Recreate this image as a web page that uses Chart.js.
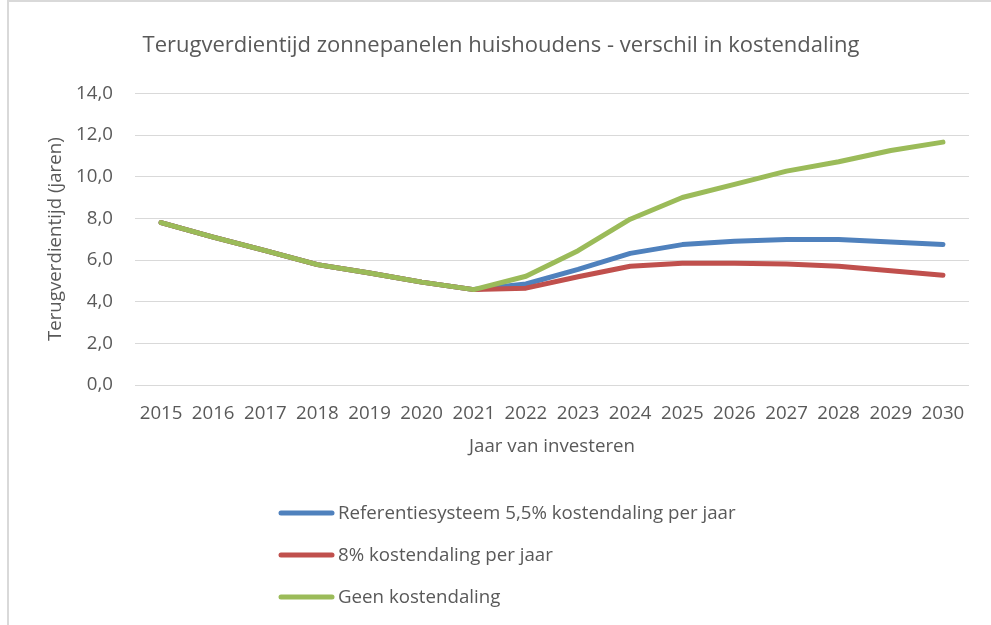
<!DOCTYPE html>
<html>
<head>
<meta charset="utf-8">
<script src="https://cdn.jsdelivr.net/npm/chart.js@4"></script>
<style>
  html,body{margin:0;padding:0;background:#fff;}
  #wrap{position:relative;width:991px;height:625px;overflow:hidden;}
  #frame{position:absolute;left:7px;top:0;width:1000px;height:700px;border-left:2px solid #d9d9d9;border-top:2px solid #d9d9d9;box-sizing:border-box;pointer-events:none;}
  canvas{position:absolute;left:0;top:0;}
</style>
</head>
<body>
<div id="wrap">
  <canvas id="chart" width="991" height="625"></canvas>
  <div id="frame"></div>
</div>
<script>
const years = ['2015','2016','2017','2018','2019','2020','2021','2022','2023','2024','2025','2026','2027','2028','2029','2030'];
const referentie = [7.8,7.1,6.45,5.78,5.38,4.94,4.58,4.85,5.55,6.32,6.74,6.9,6.99,6.98,6.86,6.74];
const acht = [7.8,7.1,6.45,5.78,5.38,4.94,4.58,4.65,5.2,5.7,5.84,5.84,5.81,5.7,5.49,5.27];
const geen = [7.8,7.1,6.45,5.78,5.38,4.94,4.58,5.22,6.45,7.96,9.0,9.63,10.27,10.72,11.26,11.66];

const seriesNames = ['Referentiesysteem 5,5% kostendaling per jaar','8% kostendaling per jaar','Geen kostendaling'];
const colors = ['#4f81bd','#c0504d','#9bbb59'];

const FONT = '"Open Sans", sans-serif';
const TXT = '#595959';

// legend drawn below the plot, one row per series
const bottomLegend = {
  id:'bottomLegend',
  afterDraw(chart){
    const ctx = chart.ctx;
    ctx.save();
    chart.data.datasets.forEach((ds,i)=>{
      const y = 513 + i*42;
      ctx.strokeStyle = ds.borderColor;
      ctx.lineWidth = 5;
      ctx.lineCap = 'round';
      ctx.beginPath();
      ctx.moveTo(281,y);
      ctx.lineTo(332,y);
      ctx.stroke();
      ctx.fillStyle = TXT;
      ctx.font = '18.7px ' + FONT;
      ctx.textBaseline = 'middle';
      ctx.fillText(ds.label, 338, y+1);
    });
    ctx.restore();
  }
};

const ctx = document.getElementById('chart').getContext('2d');
new Chart(ctx,{
  type:'line',
  data:{
    labels: years,
    datasets:[
      {label:seriesNames[0], data:referentie, borderColor:colors[0], order:2},
      {label:seriesNames[1], data:acht, borderColor:colors[1], order:1},
      {label:seriesNames[2], data:geen, borderColor:colors[2], order:0}
    ]
  },
  options:{
    responsive:false,
    animation:false,
    elements:{
      line:{borderWidth:5, tension:0, borderCapStyle:'round', borderJoinStyle:'round', fill:false},
      point:{radius:0, hoverRadius:0}
    },
    layout:{padding:{left:33, right:22, top:0, bottom:165}},
    plugins:{
      legend:{display:false},
      tooltip:{enabled:false},
      title:{
        display:true,
        text:'Terugverdientijd zonnepanelen huishoudens - verschil in kostendaling',
        color:TXT,
        font:{family:FONT, size:22, weight:'normal'},
        padding:{top:33, bottom:34}
      }
    },
    scales:{
      x:{
        offset:true,
        grid:{display:false, drawTicks:false},
        border:{display:false},
        ticks:{color:TXT, font:{family:FONT, size:18.7}, padding:17, maxRotation:0, autoSkip:false},
        title:{display:true, text:'Jaar van investeren', color:TXT, font:{family:FONT, size:18.7}, padding:{top:4, bottom:2}},
        afterFit(s){ s.height = 75; }
      },
      y:{
        min:0, max:14,
        grid:{color:'#d9d9d9', lineWidth:1, drawTicks:false},
        border:{display:false},
        ticks:{stepSize:2, color:TXT, font:{family:FONT, size:18.7}, padding:22,
          callback:v=>v.toFixed(1).replace('.',',')},
        title:{display:true, text:'Terugverdientijd (jaren)', color:TXT, font:{family:FONT, size:18.7}, padding:{top:11, bottom:0}},
        afterFit(s){ s.width = 102; }
      }
    }
  },
  plugins:[bottomLegend]
});
</script>
</body>
</html>
